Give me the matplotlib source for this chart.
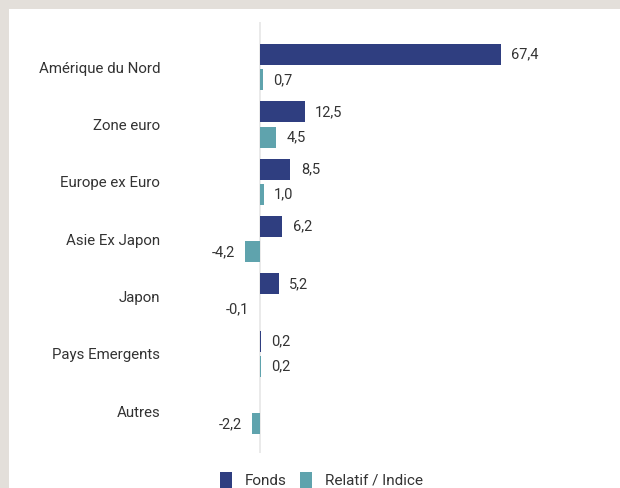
import matplotlib
matplotlib.use("Agg")
import matplotlib.pyplot as plt
from matplotlib.patches import Rectangle
import numpy as np

categories = ["Amérique du Nord", "Zone euro", "Europe ex Euro", "Asie Ex Japon",
              "Japon", "Pays Emergents", "Autres"]
fonds = [67.4, 12.5, 8.5, 6.2, 5.2, 0.2, None]
relatif = [0.7, 4.5, 1.0, -4.2, -0.1, 0.2, -2.2]
series_names = ["Fonds", "Relatif / Indice"]
colors = ["#2f3e80", "#5fa3ad"]

plt.rcParams['font.family'] = ['Roboto', 'DejaVu Sans']

W, H = 620, 488
fig = plt.figure(figsize=(W / 100, H / 100), dpi=100)
fig.patch.set_facecolor("#e3dfda")
# white panel
fig.patches.append(Rectangle((9 / W, 0), 1, 1 - 9 / H, transform=fig.transFigure,
                             facecolor="white", edgecolor="none", zorder=-10))

ax_left, ax_right = 170, 600
ax_top, ax_bottom = 22, 453
ax = fig.add_axes([ax_left / W, 1 - ax_bottom / H, (ax_right - ax_left) / W,
                   (ax_bottom - ax_top) / H])
ax.set_facecolor("none")
ax.set_zorder(1)

scale = (501 - 260) / 67.4
xmin = -(260 - ax_left) / scale
xmax = (ax_right - 260) / scale
ax.set_xlim(xmin, xmax)
ax.set_ylim(6.728, -0.789)

y = np.arange(len(categories))
off = 0.222
h = 0.366
fv = [v if v is not None else 0 for v in fonds]
ax.barh(y - off, fv, height=h, color=colors[0], label=series_names[0], zorder=3)
ax.barh(y + off, relatif, height=h, color=colors[1], label=series_names[1], zorder=3)

ax.axvline(0, color="#e6e6e6", lw=1.2, zorder=1)

def fmt(v):
    return f"{v:.1f}".replace(".", ",")

pad = 2.9
fs_val = 10.5
for i, v in enumerate(fonds):
    if v is None:
        continue
    if v >= 0:
        ax.text(v + pad, i - off, fmt(v), va="center", ha="left", fontsize=fs_val, color="#333333")
    else:
        ax.text(v - pad, i - off, fmt(v), va="center", ha="right", fontsize=fs_val, color="#333333")
for i, v in enumerate(relatif):
    if v >= 0:
        ax.text(v + pad, i + off, fmt(v), va="center", ha="left", fontsize=fs_val, color="#333333")
    else:
        ax.text(v - pad, i + off, fmt(v), va="center", ha="right", fontsize=fs_val, color="#333333")

ax.set_yticks(y)
ax.set_yticklabels(categories, fontsize=10.8, color="#333333")
ax.tick_params(axis="y", length=0, pad=7)
ax.set_xticks([])
for s in ax.spines.values():
    s.set_visible(False)

leg = fig.legend(loc="center", bbox_to_anchor=(321.5 / W, 1 - 480 / H), ncol=2, frameon=False,
                 fontsize=11, handlelength=0.8, handleheight=1.2, handletextpad=0.85,
                 columnspacing=0.85, labelcolor="#333333", borderpad=0, borderaxespad=0)

fig.savefig("out.png", dpi=100, facecolor=fig.get_facecolor())
